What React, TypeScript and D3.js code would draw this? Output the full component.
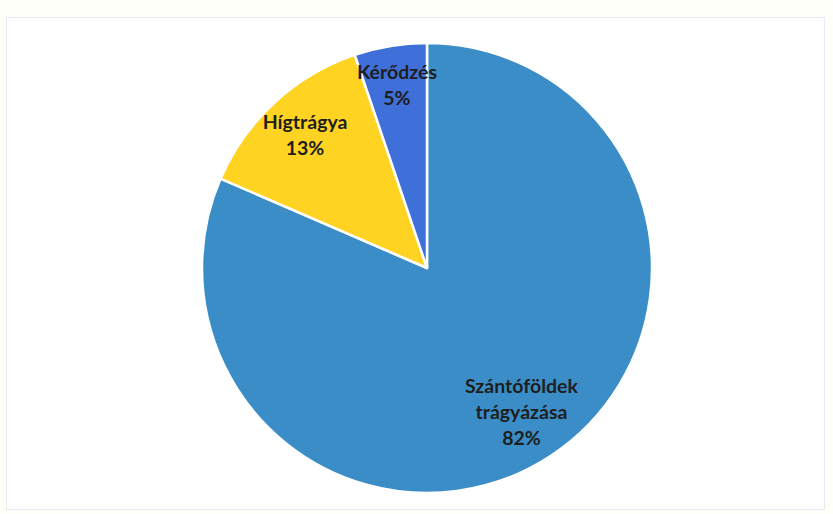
import React from "react";
import { pie, arc, PieArcDatum } from "d3";

const categories = ["Szántóföldek trágyázása", "Hígtrágya", "Kérődzés"];
const labelLines = [["Szántóföldek", "trágyázása"], ["Hígtrágya"], ["Kérődzés"]];
// shares as drawn (labels show them rounded)
const values = [81.5, 13.3, 5.2];
const colors = ["#3a8dc6", "#ffd322", "#3f6fd8"];

const W = 833;
const H = 514;
const cx = 427;
const cy = 268;
const R = 225;
// distance of each label from the centre
const labelRadius = [172, 180, 185];

type Slice = { name: string; lines: string[]; value: number; color: string };

const slices: Slice[] = categories.map((name, i) => ({
  name,
  lines: labelLines[i],
  value: values[i],
  color: colors[i],
}));

const App = () => {
  const layout = pie<Slice>()
    .sort(null)
    .value((d) => d.value);
  const arcs = layout(slices);

  const sliceArc = arc<PieArcDatum<Slice>>().innerRadius(0).outerRadius(R);

  const lineH = 26;

  return (
    <svg width={W} height={H} style={{ position: "absolute", left: 0, top: 0 }}>
      <rect x={0} y={0} width={W} height={H} fill="#fffffa" />
      <rect x={6.5} y={17.5} width={818} height={492} fill="#ffffff" stroke="#e8ebf3" strokeWidth={1} />
      <g transform={`translate(${cx},${cy})`}>
        {arcs.map((a, i) => (
          <path key={i} d={sliceArc(a) || ""} fill={a.data.color} stroke="#ffffff" strokeWidth={2.5} strokeLinejoin="round" />
        ))}
        {arcs.map((a, i) => {
          const r = labelRadius[i];
          const [x, y] = arc<PieArcDatum<Slice>>().innerRadius(r).outerRadius(r).centroid(a);
          const lines = [...a.data.lines, `${Math.round(a.data.value)}%`];
          const y0 = y - ((lines.length - 1) * lineH) / 2;
          return (
            <text
              key={i}
              x={x}
              textAnchor="middle"
              fontFamily="Lato, 'Open Sans', sans-serif"
              fontWeight="bold"
              fontSize={19.5}
              fill="#1e1e1e"
            >
              {lines.map((l, j) => (
                <tspan key={j} x={x} y={y0 + j * lineH} dy="0.35em">
                  {l}
                </tspan>
              ))}
            </text>
          );
        })}
      </g>
    </svg>
  );
};

export default App;
